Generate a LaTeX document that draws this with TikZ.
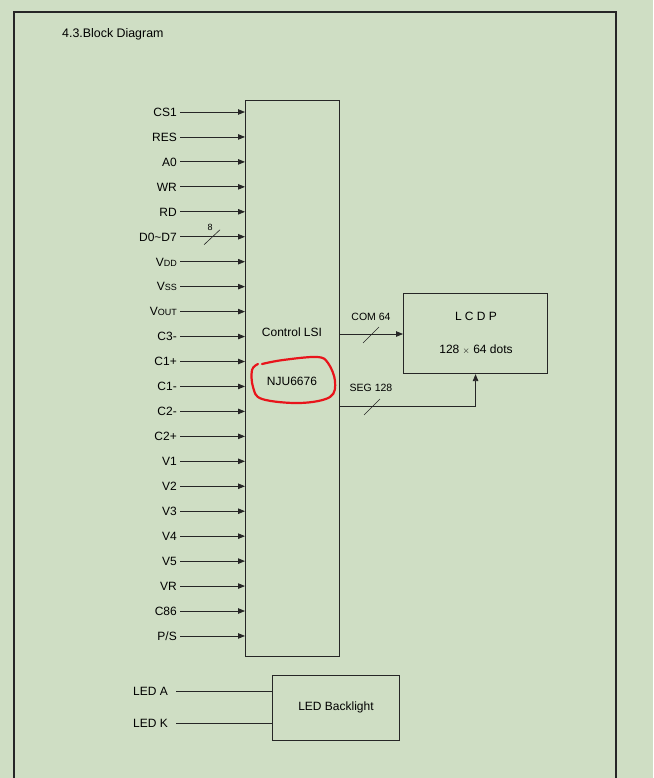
\documentclass[tikz,border=0pt]{standalone}
\usepackage{fontspec}
\setmainfont{Liberation Sans}
\usetikzlibrary{positioning,arrows.meta,calc}
\definecolor{cPage}{HTML}{CFDEC4}
\definecolor{cLine}{HTML}{262626}
\definecolor{cMark}{HTML}{E8141B}
\newcommand{\smc}[1]{{\fontsize{9}{9}\selectfont #1}}
\tikzset{
  >={Triangle[length=7pt,width=5.5pt]},
  blk/.style={draw=cLine,line width=1.1pt,anchor=north west,inner sep=0pt},
  txt/.style={inner sep=1pt,font=\fontsize{12}{12}\selectfont},
  pinlbl/.style={txt,anchor=east,text height=8.6pt,text depth=0pt},
  buslbl/.style={inner sep=1pt,font=\fontsize{10.5}{10.5}\selectfont},
  sig/.style={->,line width=0.8pt,cLine},
  wire/.style={line width=0.8pt,cLine},
  tick/.style={line width=0.6pt,cLine},
}
\begin{document}
\begin{tikzpicture}[x=1pt,y=-1pt]
  \fill[cPage] (0,0) rectangle (653,778);
  \useasboundingbox (0,0) rectangle (653,778);
  % page frame (open at the bottom)
  \draw[line width=2pt,cLine] (14,778) -- (14,12) -- (616,12) -- (616,778);
  \node[txt,anchor=west,font=\fontsize{12.4}{12.4}\selectfont] (title) at (61,34) {4.3.Block Diagram};

  % blocks
  \node[blk,minimum width=94pt,minimum height=556pt] (lsi) at (245,100) {};
  \node[txt] (lsitxt) at (292,332) {Control LSI};
  \node[txt] (chip) at (292,381) {NJU6676};
  \node[blk,minimum width=144pt,minimum height=80pt] (lcd) at (403,293) {};
  \node[txt] (lcdname) at (476,316) {L C D P};
  \node[txt] (lcddots) at (476,350) {128 {\small$\times$} 64 dots};
  \node[blk,minimum width=127pt,minimum height=65pt] (led) at (272,675) {};
  \node[txt] (ledtxt) at (336,707) {LED Backlight};

  % inputs of the control LSI
  \foreach \lbl [count=\i] in {CS1,RES,A0,WR,RD,D0\textasciitilde D7,
      V\smc{DD},V\smc{SS},V\smc{OUT},C3-,C1+,C1-,C2-,C2+,
      V1,V2,V3,V4,V5,VR,C86,P/S}{
    \node[pinlbl] (p\i) at (178,{112+(\i-1)*24.95}) {\lbl};
    \draw[sig] ($(p\i.east)+(2,0)$) -- (p\i.east -| lsi.west);
  }
  \coordinate (d8) at ($(p6.east)+(34,0)$);
  \draw[tick] ($(d8)+(-8,8)$) -- ($(d8)+(8,-7)$);
  \node[buslbl,font=\fontsize{9}{9}\selectfont] (n8) at (210,227) {8};

  % outputs to the LCD
  \coordinate (com) at (lsi.east |- 0,334);
  \draw[sig] (com) -- (com -| lcd.west);
  \coordinate (comt) at (371,335);
  \draw[tick] ($(comt)+(-8,8)$) -- ($(comt)+(8,-8)$);
  \node[buslbl] (comlbl) at (371,317) {COM 64};
  \coordinate (seg) at (lsi.east |- 0,406);
  \draw[sig] (seg) -| (lcd.south);
  \coordinate (segt) at (372,407);
  \draw[tick] ($(segt)+(-8,8)$) -- ($(segt)+(8,-8)$);
  \node[buslbl] (seglbl) at (371,388) {SEG 128};

  % backlight
  \node[txt,anchor=east] (leda) at (169,691) {LED A};
  \node[txt,anchor=east] (ledk) at (169,723) {LED K};
  \draw[wire] (leda.east) ++(7,0) -- (leda.east -| led.west);
  \draw[wire] (ledk.east) ++(7,0) -- (ledk.east -| led.west);

  % red hand marking round the chip name
  \draw[cMark,line width=2.2pt,line cap=round] plot[smooth,tension=0.6] coordinates {
    (262,364) (283,360) (317,357) (328,363) (335,381) (330,397)
    (300,403) (262,399) (253,387) (252,370) (258,364)};
\end{tikzpicture}
\end{document}
